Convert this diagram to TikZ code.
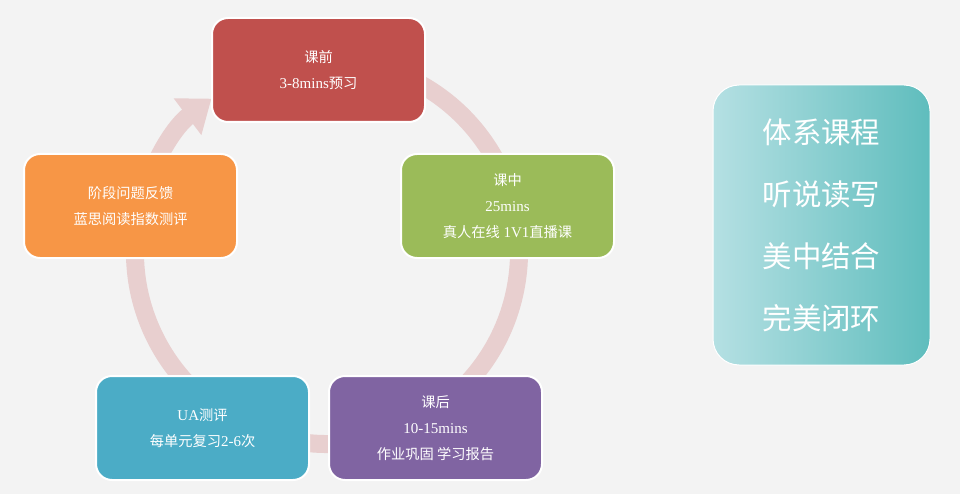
\documentclass[tikz,border=0pt]{standalone}
\usepackage{fontspec}
\setmainfont{Liberation Serif}
\newfontfamily\cjk{Noto Sans CJK SC}[Scale=0.95]
\usetikzlibrary{arrows.meta,shadings}
\definecolor{bg}{HTML}{F3F3F3}
\definecolor{ring}{HTML}{E8CFCF}
\definecolor{cred}{HTML}{C0504D}
\definecolor{cgreen}{HTML}{9BBB59}
\definecolor{cpurple}{HTML}{8064A2}
\definecolor{cteal}{HTML}{4BACC6}
\definecolor{corange}{HTML}{F79646}
\definecolor{pl}{HTML}{B5E0E3}
\definecolor{pd}{HTML}{5FBDBD}
\begin{document}
\begin{tikzpicture}[x=1pt,y=-1pt,
  box/.style={draw=white,line width=2pt,rounded corners=16pt,minimum width=213pt,minimum height=104pt,text=white,align=center,font=\fontsize{15pt}{26pt}\selectfont,inner sep=0pt}]
\fill[bg] (0,0) rectangle (960,494);
\useasboundingbox (0,0) rectangle (960,494);
\draw[ring,line width=18pt,-{Triangle[width=44pt,length=30pt]}] (327,252) ++(-80:192) arc[start angle=-80,end angle=233,radius=192];
\node[box,fill=cred] (a) at (318.5,70) {{\cjk 课前}\\3-8mins{\cjk 预习}};
\node[box,fill=cgreen] (b) at (507.5,206) {{\cjk 课中}\\25mins\\{\cjk 真人在线} 1V1{\cjk 直播课}};
\node[box,fill=cpurple] (c) at (435.5,428) {{\cjk 课后}\\10-15mins\\{\cjk 作业巩固 学习报告}};
\node[box,fill=cteal] (d) at (202.5,428) {UA{\cjk 测评}\\{\cjk 每单元复习}2-6{\cjk 次}};
\node[box,fill=corange] (e) at (130.5,206) {{\cjk 阶段问题反馈}\\{\cjk 蓝思阅读指数测评}};
\node[draw=white,line width=1pt,rounded corners=26pt,minimum width=217pt,minimum height=280pt,left color=pl,right color=pd,text=white,align=center,inner sep=0pt,font=\cjk\fontsize{31pt}{62pt}\selectfont] (p) at (821.5,225) {体系课程\\听说读写\\美中结合\\完美闭环};
\end{tikzpicture}
\end{document}
